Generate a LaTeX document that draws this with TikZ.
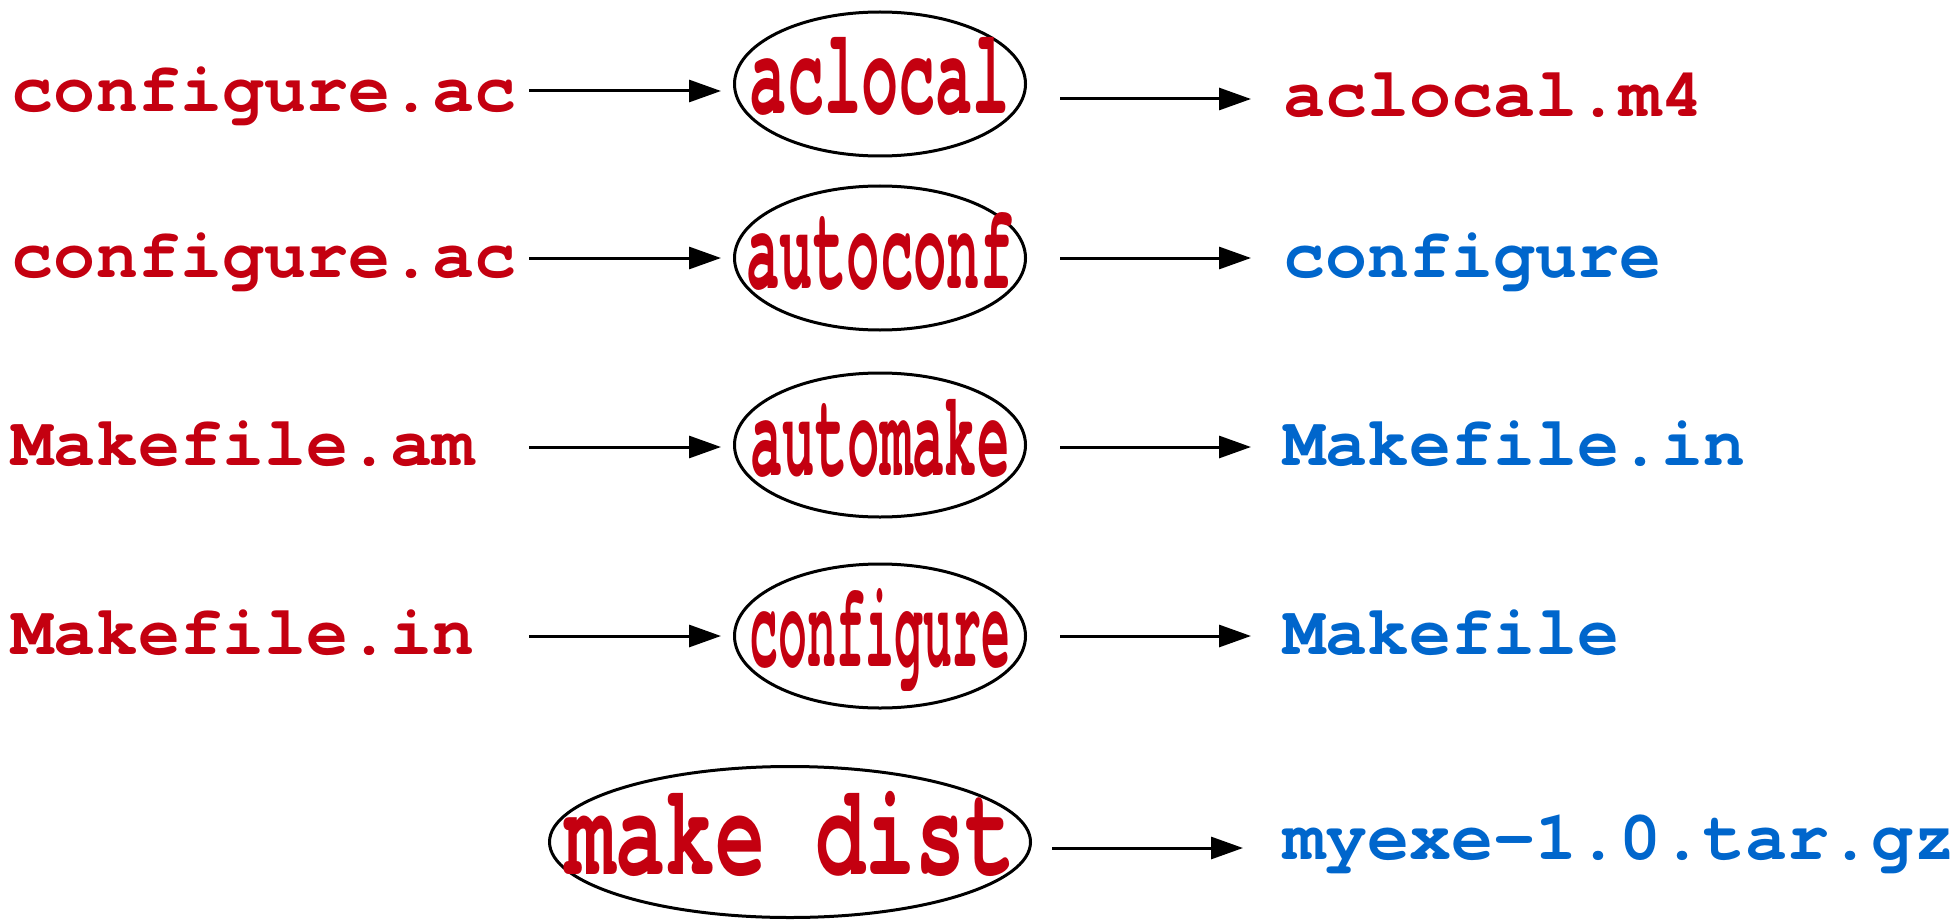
\documentclass[tikz,border=0pt]{standalone}
\usepackage{fontspec}
\usepackage{graphicx}
\newfontfamily\cour{TeX Gyre Cursor}[Ligatures={NoCommon,NoRequired,TeXOff}]
\usetikzlibrary{shapes.geometric,arrows.meta}
\definecolor{fred}{RGB}{196,0,16}
\definecolor{fblue}{RGB}{0,102,204}
\newcommand{\squeeze}[2]{\makebox[0pt]{\scalebox{#1}[1]{#2}}}
\begin{document}
\begin{tikzpicture}[x=1pt,y=1pt,
  lab/.style={font=\cour\bfseries\fontsize{70}{70}\selectfont, inner sep=0pt, outer sep=0pt, anchor=base west},
  srcfile/.style={lab, text=fred, text width=517pt, align=left},
  redfile/.style={lab, text=fred},
  bluefile/.style={lab, text=fblue},
  tool/.style={ellipse, draw, line width=3pt, minimum width=291pt, minimum height=144pt,
    inner sep=0pt, text=fred, font=\cour\bfseries\fontsize{122}{122}\selectfont,
    text height=70pt, text depth=10pt},
  arr/.style={line width=3pt, -{Triangle[length=32pt,width=22pt]}}]
\useasboundingbox (0,0) rectangle (1958,-920);

% row y levels for connectors
\coordinate (y1l) at (0,-91);
\coordinate (y1r) at (0,-99);
\coordinate (y2) at (0,-258);
\coordinate (y3) at (0,-447);
\coordinate (y4) at (0,-636);
\coordinate (y5) at (0,-848);

% left inputs
\node[srcfile] (l1) at (12,-112) {configure.ac};
\node[srcfile] (l2) at (12,-277) {configure.ac};
\node[srcfile] (l3) at (12,-465) {Makefile.am};
\node[srcfile] (l4) at (12,-654) {Makefile.in};

% tools
\node[tool] (e1) at (880,-84)  {\squeeze{0.508}{aclocal}};
\node[tool] (e2) at (880,-258) {\squeeze{0.456}{autoconf}};
\node[tool] (e3) at (880,-445) {\squeeze{0.442}{automake}};
\node[tool] (e4) at (880,-636) {\squeeze{0.395}{configure}};
\node[tool, minimum width=481pt, minimum height=151pt, font=\cour\bfseries\fontsize{130}{130}\selectfont,
      text height=75pt, text depth=11pt] (e5) at (790,-842) {\squeeze{0.641}{make dist}};

% outputs
\node[redfile]  (r1) at (1283,-117) {aclocal.m4};
\node[bluefile] (r2) at (1283,-277) {configure};
\node[bluefile] (r3) at (1283,-465) {Makefile.in};
\node[bluefile] (r4) at (1283,-654) {Makefile};
\node[bluefile] (r5) at (1283,-859) {myexe-1.0.tar.gz};

% inputs -> tools
\draw[arr, shorten >=12pt] (l1.east |- y1l) -- (e1.west |- y1l);
\draw[arr, shorten >=12pt] (l2.east |- y2) -- (e2.west |- y2);
\draw[arr, shorten >=12pt] (l3.east |- y3) -- (e3.west |- y3);
\draw[arr, shorten >=12pt] (l4.east |- y4) -- (e4.west |- y4);

% tools -> outputs
\draw[arr, shorten <=33pt, shorten >=32pt] (e1.east |- y1r) -- (r1.west |- y1r);
\draw[arr, shorten <=33pt, shorten >=32pt] (e2.east |- y2) -- (r2.west |- y2);
\draw[arr, shorten <=33pt, shorten >=32pt] (e3.east |- y3) -- (r3.west |- y3);
\draw[arr, shorten <=33pt, shorten >=32pt] (e4.east |- y4) -- (r4.west |- y4);
\draw[arr, shorten <=20pt, shorten >=40pt] (e5.east |- y5) -- (r5.west |- y5);
\end{tikzpicture}
\end{document}
